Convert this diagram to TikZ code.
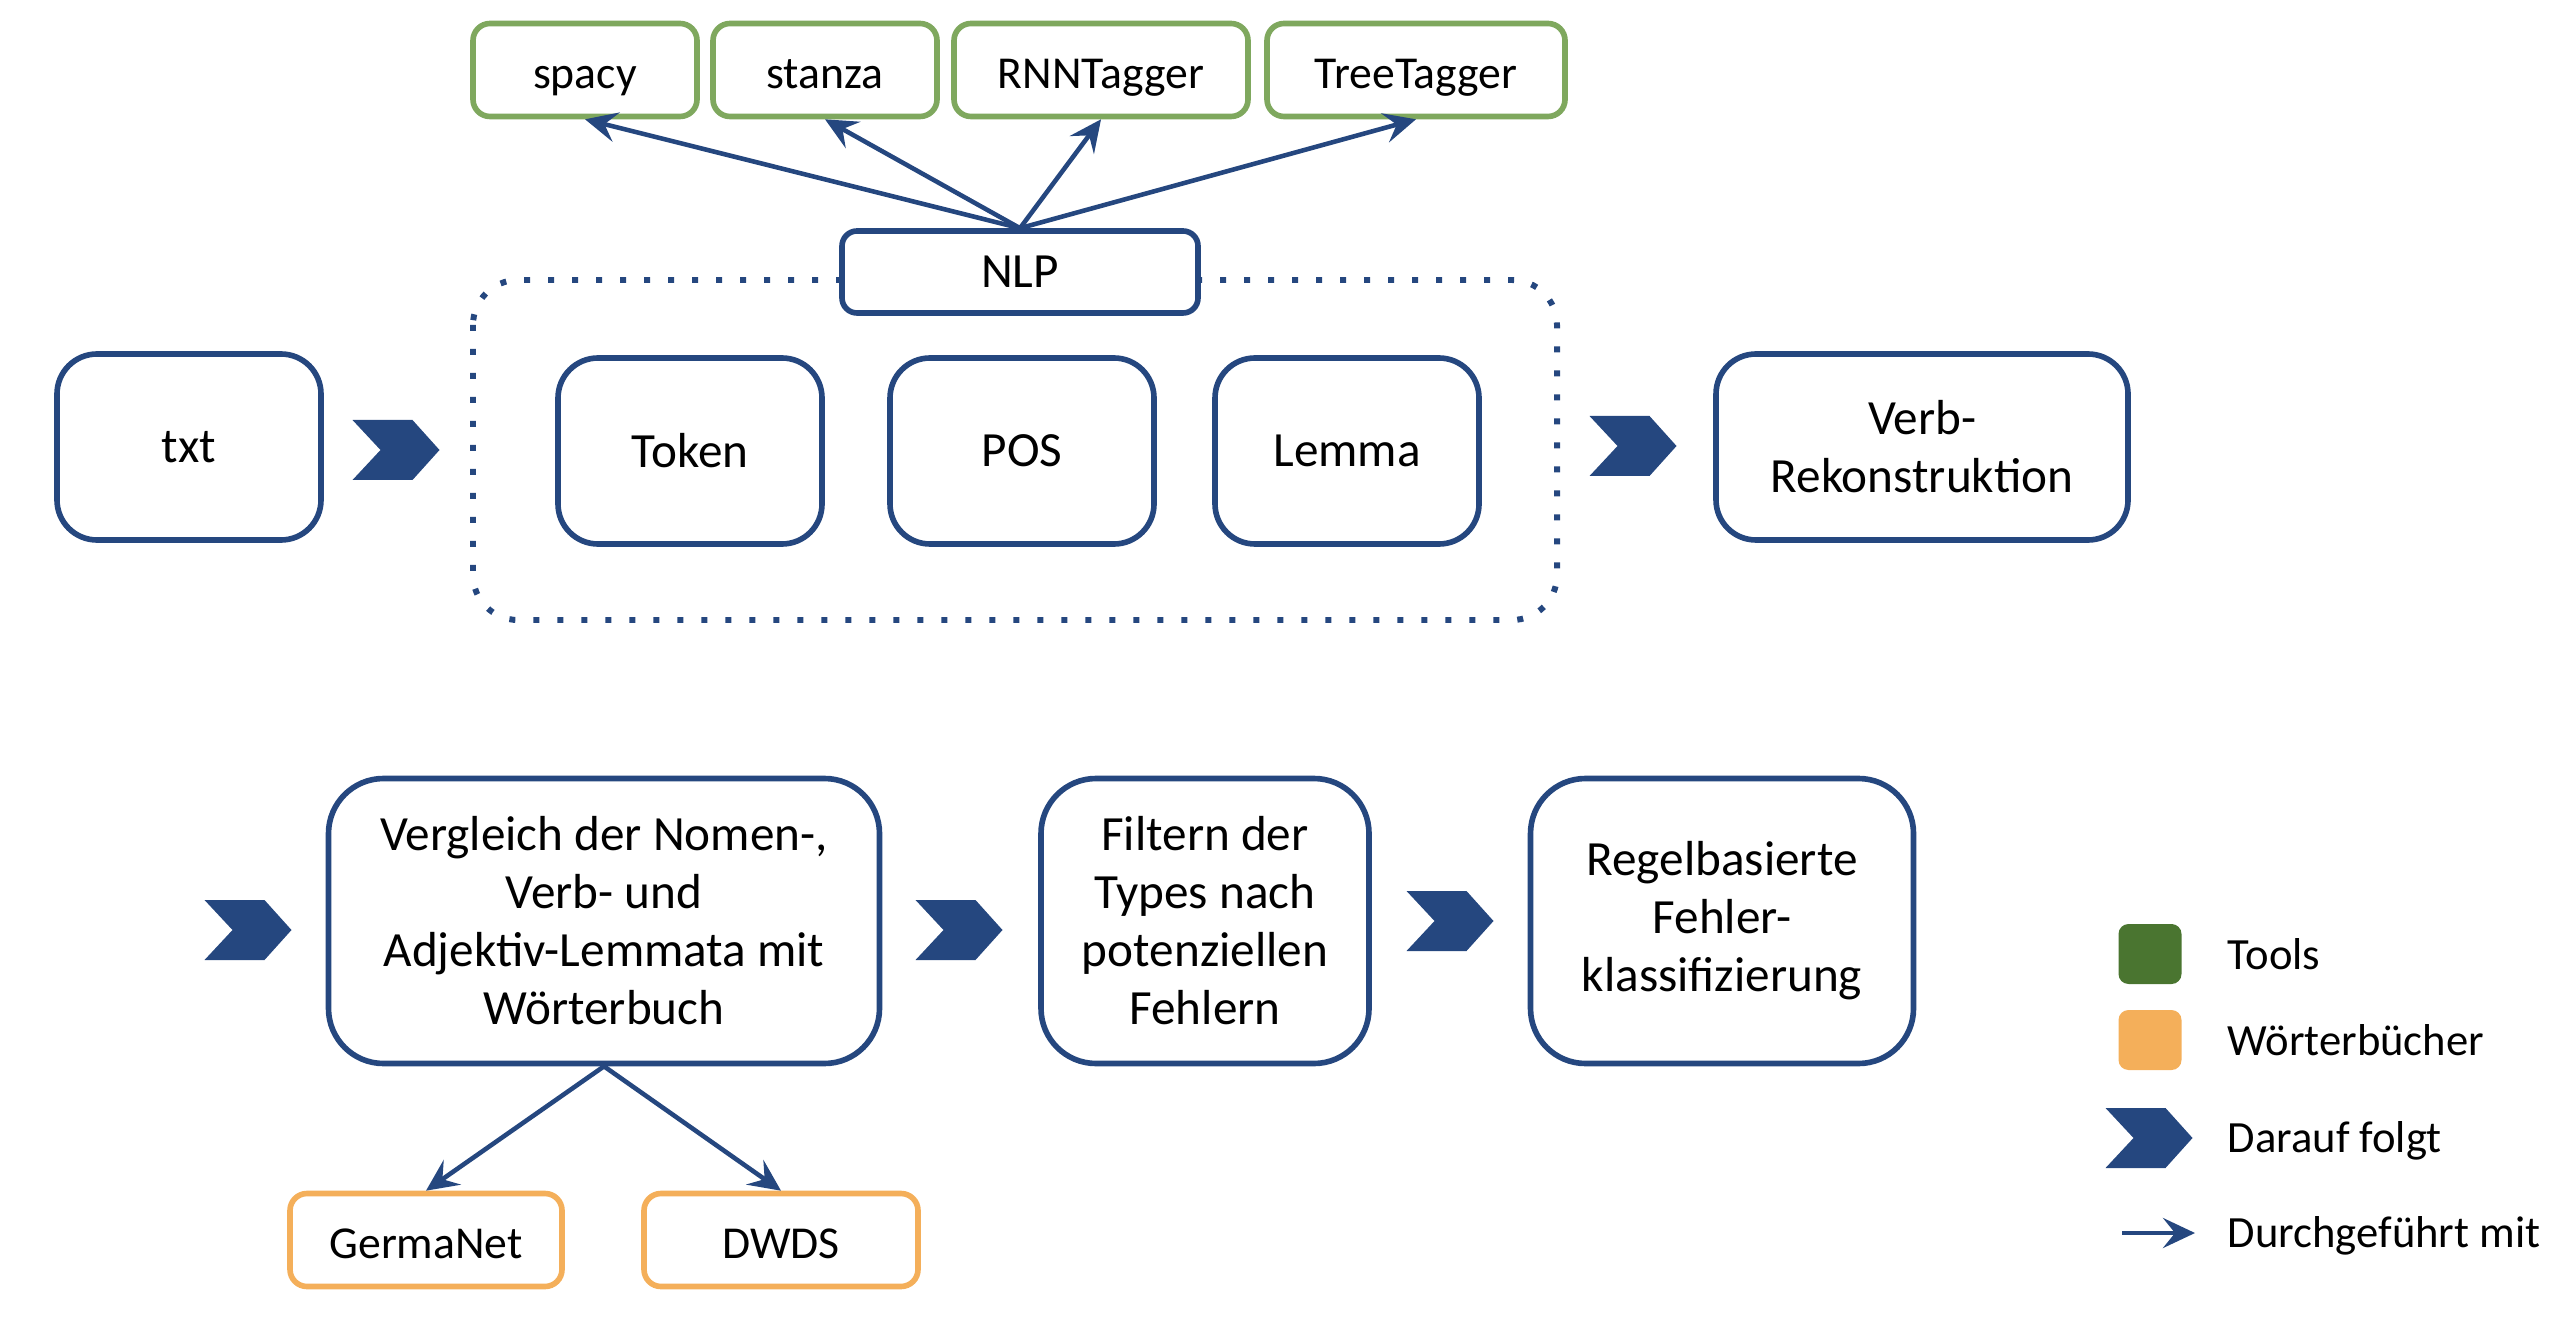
\documentclass[tikz,border=0pt]{standalone}
\usepackage{fontspec}
\setmainfont{Carlito}
\usepackage{tikz}
\usetikzlibrary{arrows.meta}
\definecolor{nlpblue}{RGB}{37,71,127}
\definecolor{toolgreen}{RGB}{127,168,94}
\definecolor{dictorange}{RGB}{244,175,90}
\definecolor{legendgreen}{RGB}{74,117,48}

\begin{document}
\begin{tikzpicture}[x=1cm,y=1cm]
    \tikzstyle{every node}+=[inner sep=0pt, align=center, font=\fontsize{14}{16.5}\selectfont]
    \tikzstyle{procbox}=[draw=nlpblue, line width=1.6pt, fill=white, rounded corners=0.4cm]
    \tikzstyle{toolbox}=[draw=toolgreen, line width=1.6pt, fill=white, rounded corners=0.17cm, minimum height=0.93cm, text height=0.42cm, text depth=0.05cm, font=\fontsize{13}{15}\selectfont]
    \tikzstyle{dictbox}=[toolbox, draw=dictorange]
    \tikzstyle{legendsq}=[rounded corners=0.1cm, minimum width=0.63cm, minimum height=0.60cm]
    \tikzstyle{legendtext}=[anchor=base west, font=\fontsize{12.7}{15}\selectfont]
    \tikzstyle{usesarrow}=[draw=nlpblue, line width=1.3pt, -{Stealth[length=0.32cm, width=0.3cm, inset=0.12cm]}]
    \tikzset{chev/.pic={\fill[nlpblue] (-0.435,0.3) -- (0.165,0.3) -- (0.435,0) -- (0.165,-0.3) -- (-0.435,-0.3) -- (-0.155,0) -- cycle;}}
    \useasboundingbox (0,0) rectangle (25.7,-13.2);
    % dotted NLP frame
    \draw [nlpblue, line width=1.7pt, dash pattern=on 0.06cm off 0.18cm, rounded corners=0.45cm] (4.73,-2.80) rectangle (15.57,-6.20);
    % first row
    \node [procbox, minimum width=2.64cm, minimum height=1.86cm] (txt) at (1.89,-4.47) {txt};
    \node [procbox, minimum width=2.64cm, minimum height=1.86cm] (token) at (6.90,-4.51) {Token};
    \node [procbox, minimum width=2.64cm, minimum height=1.86cm] (pos) at (10.22,-4.51) {POS};
    \node [procbox, minimum width=2.64cm, minimum height=1.86cm] (lemma) at (13.47,-4.51) {Lemma};
    \node [procbox, minimum width=4.12cm, minimum height=1.86cm] (verbrek) at (19.22,-4.47) {Verb-\\Rekonstruktion};
    \node [procbox, rounded corners=0.15cm, minimum width=3.56cm, minimum height=0.82cm] (nlp) at (10.20,-2.72) {NLP};
    \pic at (3.96,-4.50) {chev};
    \pic at (16.33,-4.46) {chev};
    % tools
    \node [toolbox, minimum width=2.24cm] (spacy) at (5.85,-0.70) {spacy};
    \node [toolbox, minimum width=2.24cm] (stanza) at (8.25,-0.70) {stanza};
    \node [toolbox, minimum width=2.94cm] (rnntagger) at (11.01,-0.70) {RNNTagger};
    \node [toolbox, minimum width=2.98cm] (treetagger) at (14.16,-0.70) {TreeTagger};
    \draw [usesarrow] (nlp.north) -- (spacy.south);
    \draw [usesarrow] (nlp.north) -- (stanza.south);
    \draw [usesarrow] (nlp.north) -- (rnntagger.south);
    \draw [usesarrow] (nlp.north) -- (treetagger.south);
    % second row
    \pic at (2.48,-9.30) {chev};
    \node [procbox, rounded corners=0.55cm, minimum width=5.51cm, minimum height=2.85cm] (vergleich) at (6.04,-9.21) {Vergleich der Nomen-,\\Verb- und\\Adjektiv-Lemmata mit\\Wörterbuch};
    \pic at (9.59,-9.30) {chev};
    \node [procbox, rounded corners=0.55cm, minimum width=3.28cm, minimum height=2.85cm] (filtern) at (12.05,-9.21) {Filtern der\\Types nach\\potenziellen\\Fehlern};
    \pic at (14.50,-9.21) {chev};
    \node [procbox, rounded corners=0.55cm, minimum width=3.83cm, minimum height=2.85cm] (regel) at (17.22,-9.21) {Regelbasierte\\Fehler-\\klassifizierung};
    % dictionaries
    \node [dictbox, minimum width=2.72cm] (germanet) at (4.26,-12.40) {GermaNet};
    \node [dictbox, minimum width=2.74cm] (dwds) at (7.81,-12.40) {DWDS};
    \draw [usesarrow] (vergleich.south) -- (germanet.north);
    \draw [usesarrow] (vergleich.south) -- (dwds.north);
    % legend
    \node [legendsq, fill=legendgreen] (lgtools) at (21.50,-9.54) {};
    \node [legendsq, fill=dictorange] (lgdict) at (21.50,-10.40) {};
    \pic at (21.49,-11.38) {chev};
    \coordinate (lgarrowa) at (21.22,-12.33);
    \coordinate (lgarrowb) at (21.95,-12.33);
    \draw [usesarrow] (lgarrowa) -- (lgarrowb);
    \node [legendtext] (lgtoolstext) at (22.27,-9.69) {Tools};
    \node [legendtext] (lgdicttext) at (22.27,-10.55) {Wörterbücher};
    \node [legendtext] (lgchevtext) at (22.27,-11.52) {Darauf folgt};
    \node [legendtext] (lgarrowtext) at (22.27,-12.47) {Durchgeführt mit};
\end{tikzpicture}
\end{document}
